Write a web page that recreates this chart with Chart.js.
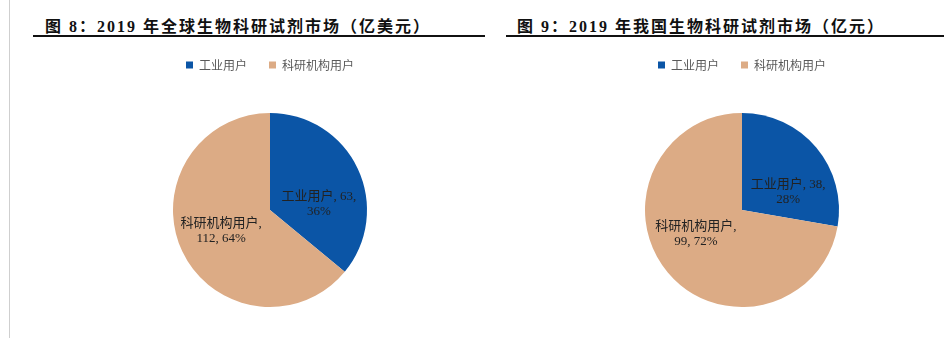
<!DOCTYPE html>
<html>
<head>
<meta charset="utf-8">
<script src="https://cdn.jsdelivr.net/npm/chart.js@4.4.1/dist/chart.umd.min.js"></script>
<style>
    html, body {
        margin: 0;
        padding: 0;
        background: #fff;
        width: 944px;
        height: 338px;
        overflow: hidden;
    }
    .page {
        position: relative;
        width: 944px;
        height: 338px;
    }
    .side-rule {
        position: absolute;
        left: 9px;
        top: 0;
        width: 1px;
        height: 338px;
        background: #cfcfcf;
    }
    .fig-title {
        position: absolute;
        top: 13px;
        font-family: "Liberation Serif", "Noto Sans CJK SC", serif;
        font-weight: bold;
        font-size: 16px;
        letter-spacing: 2px;
        color: #111;
        white-space: nowrap;
    }
    .fig-rule {
        position: absolute;
        top: 35px;
        height: 2px;
        background: #111;
    }
    .chart-box {
        position: absolute;
        top: 33px;
        width: 400px;
        height: 279px;
    }
</style>
</head>
<body>
<div class="page">
    <div class="side-rule"></div>

    <div class="fig-title" style="left:45px">图 8：2019 年全球生物科研试剂市场（亿美元）</div>
    <div class="fig-rule" style="left:33px; width:452px"></div>
    <div class="chart-box" style="left:70px"><canvas id="global-chart"></canvas></div>

    <div class="fig-title" style="left:517px">图 9：2019 年我国生物科研试剂市场（亿元）</div>
    <div class="fig-rule" style="left:506px; width:438px"></div>
    <div class="chart-box" style="left:542px"><canvas id="china-chart"></canvas></div>
</div>

<script>
// Catégories et valeurs des deux marchés
const segments = ['工业用户', '科研机构用户'];
const globalValues = [63, 112];
const globalShares = [36, 64];
const chinaValues = [38, 99];
const chinaShares = [28, 72];

const sliceColors = ['#0b55a6', '#dcab85'];

/**
 * Plugin : espace supplémentaire sous la légende
 */
const legendGapPlugin = {
    id: 'legendGap',
    beforeInit(chart, args, opts) {
        const fit = chart.legend.fit;
        chart.legend.fit = function () {
            fit.bind(chart.legend)();
            this.height += opts.gap || 0;
        };
    }
};

/**
 * Plugin : étiquettes "catégorie, valeur, part" dans chaque secteur
 */
const sliceLabelsPlugin = {
    id: 'sliceLabels',
    afterDatasetsDraw(chart, args, opts) {
        const ctx = chart.ctx;
        const meta = chart.getDatasetMeta(0);
        ctx.save();
        ctx.font = '13px "Liberation Serif", "Noto Sans CJK SC", serif';
        ctx.fillStyle = '#222';
        ctx.textAlign = 'center';
        ctx.textBaseline = 'middle';
        meta.data.forEach((arc, i) => {
            const pos = arc.tooltipPosition();
            const off = opts.offsets[i] || [0, 0];
            const lines = opts.lines[i];
            const lh = 15;
            const y0 = pos.y + off[1] - (lines.length - 1) * lh / 2;
            lines.forEach((line, k) => {
                ctx.fillText(line, pos.x + off[0], y0 + k * lh);
            });
        });
        ctx.restore();
    }
};

/**
 * Crée un camembert avec sa légende en haut
 */
function createPie(canvasId, values, shares, lines, offsets) {
    const ctx = document.getElementById(canvasId).getContext('2d');
    return new Chart(ctx, {
        type: 'pie',
        data: {
            labels: segments,
            datasets: [{
                data: values,
                backgroundColor: sliceColors,
                borderWidth: 0
            }]
        },
        options: {
            responsive: true,
            maintainAspectRatio: false,
            animation: false,
            layout: {
                padding: { top: 4, bottom: 5 }
            },
            plugins: {
                legend: {
                    position: 'top',
                    labels: {
                        boxWidth: 7,
                        boxHeight: 7,
                        padding: 22,
                        color: '#595959',
                        font: {
                            family: '"Noto Sans CJK SC", sans-serif',
                            size: 12
                        }
                    }
                },
                legendGap: { gap: 32 },
                tooltip: { enabled: false },
                sliceLabels: {
                    lines: lines,
                    offsets: offsets
                }
            }
        },
        plugins: [legendGapPlugin, sliceLabelsPlugin]
    });
}

createPie('global-chart', globalValues, globalShares,
    [
        [segments[0] + ', ' + globalValues[0] + ',', globalShares[0] + '%'],
        [segments[1] + ',', globalValues[1] + ', ' + globalShares[1] + '%']
    ],
    [[5, 15], [-5, 0]]
);

createPie('china-chart', chinaValues, chinaShares,
    [
        [segments[0] + ', ' + chinaValues[0] + ',', chinaShares[0] + '%'],
        [segments[1] + ',', chinaValues[1] + ', ' + chinaShares[1] + '%']
    ],
    [[9, 13], [-9, -7]]
);
</script>
</body>
</html>
